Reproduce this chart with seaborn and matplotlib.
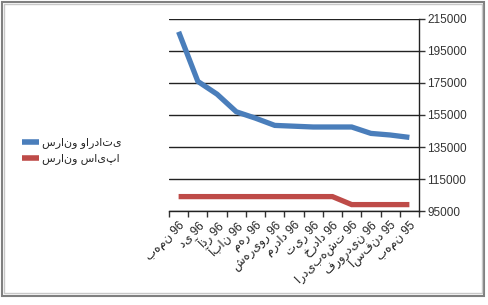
import matplotlib
matplotlib.use("Agg")
import matplotlib.pyplot as plt
import seaborn as sns
import pandas as pd
from matplotlib.patches import Rectangle
from matplotlib.lines import Line2D

months = ["بهمن 96", "دی 96", "آذر 96", "آبان 96", "مهر 96", "شهریور 96", "مرداد 96",
          "تیر 96", "خرداد 96", "اردیبهشت 96", "فروردین 96", "اسفند 95", "بهمن 95"]
series_names = ["سرانو وارداتی", "سرانو سایپا"]
imports_vals = [207000, 176000, 168000, 157000, 153000, 148500, 148000,
                147500, 147500, 147500, 143500, 142500, 141000]
saipa_vals = [104000, 104000, 104000, 104000, 104000, 104000, 104000,
              104000, 104000, 99000, 99000, 99000, 99000]
y_ticks = [95000, 115000, 135000, 155000, 175000, 195000, 215000]
colors = ["#4A7EBB", "#BE4B48"]

sns.set_style("white")
plt.rcParams['font.family'] = ['Liberation Sans', 'DejaVu Sans']

df = pd.DataFrame({
    "idx": list(range(len(months))) * 2,
    "value": imports_vals + saipa_vals,
    "series": [series_names[0]] * len(months) + [series_names[1]] * len(months),
})

fig = plt.figure(figsize=(4.88, 3.05), dpi=100)
ax = fig.add_axes([169/488, 1 - 211/305, (419-169)/488, (211-19)/305])

sns.lineplot(data=df, x="idx", y="value", hue="series", sort=False,
             palette=colors, linewidth=3.8, ax=ax, legend=False)
for ln in ax.lines:
    ln.set_solid_capstyle("butt")
    ln.set_solid_joinstyle("miter")

ax.set_xlim(-0.5, len(months) - 0.5)
ax.set_ylim(95000, 215000)
ax.yaxis.tick_right()
ax.set_yticks(y_ticks)
ax.set_yticklabels([str(v) for v in y_ticks], fontsize=8.5, color="#333333")
ax.set_xticks([i - 0.5 for i in range(len(months) + 1)])
ax.set_xticklabels([])
ax.set_xticks(range(len(months)), minor=True)
ax.set_xticklabels(months, minor=True, rotation=45, ha="right", va="top",
                   rotation_mode="anchor", fontsize=8.5, color="#222222")
ax.tick_params(axis="x", which="major", length=4, width=1, color="#333333", direction="out", bottom=True)
ax.tick_params(axis="x", which="minor", length=0, pad=6)
ax.tick_params(axis="y", length=4, width=1, color="#333333", direction="out", right=True, pad=2)
ax.set_xlabel("")
ax.set_ylabel("")
ax.grid(axis="y", color="#222222", linewidth=1)
ax.set_axisbelow(True)
for s in ["top", "left"]:
    ax.spines[s].set_visible(False)
ax.spines["right"].set_color("#222222")
ax.spines["bottom"].set_color("#222222")
ax.spines["right"].set_linewidth(1)
ax.spines["bottom"].set_linewidth(1)

handles = [Line2D([0], [0], color=c, linewidth=4, solid_capstyle="butt") for c in colors]
fig.legend(handles, series_names, loc="center left", bbox_to_anchor=(0.025, 1 - 151/305),
           frameon=False, fontsize=8, handlelength=1.5, handletextpad=0.3,
           labelspacing=0.45)

fig.patches.append(Rectangle((1.5/488, 1 - 295.5/305), 482/488, 294/305,
                             transform=fig.transFigure, fill=False,
                             edgecolor="#808080", linewidth=1.5))
fig.patches.append(Rectangle((4/488, 1 - 293/305), 477.5/488, 289/305,
                             transform=fig.transFigure, fill=False,
                             edgecolor="#c8c8c8", linewidth=1))

fig.savefig("out.png", dpi=100)
